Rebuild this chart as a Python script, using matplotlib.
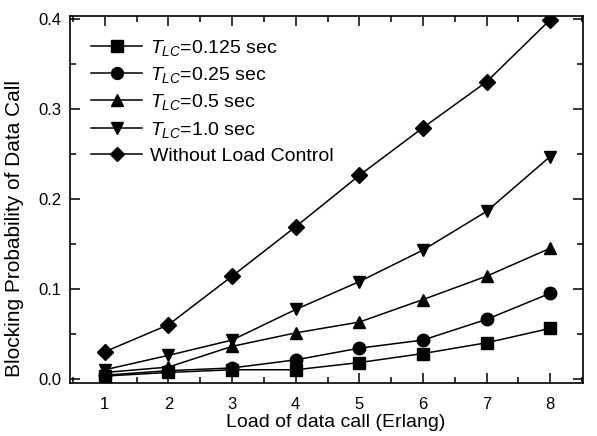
import matplotlib
matplotlib.use('Agg')
import matplotlib.pyplot as plt
from matplotlib.ticker import MultipleLocator

plt.rcParams['font.family'] = ['Liberation Sans', 'DejaVu Sans']
plt.rcParams['mathtext.fontset'] = 'custom'
plt.rcParams['mathtext.rm'] = 'Liberation Sans'
plt.rcParams['mathtext.it'] = 'Liberation Sans:italic'

# data
load = [1, 2, 3, 4, 5, 6, 7, 8]
t_0125 = [0.003, 0.007, 0.010, 0.010, 0.018, 0.028, 0.040, 0.056]
t_025 = [0.004, 0.009, 0.012, 0.021, 0.034, 0.043, 0.066, 0.095]
t_05 = [0.007, 0.013, 0.036, 0.051, 0.063, 0.088, 0.114, 0.145]
t_10 = [0.010, 0.026, 0.043, 0.077, 0.108, 0.143, 0.186, 0.247]
no_ctrl = [0.030, 0.060, 0.114, 0.169, 0.226, 0.279, 0.330, 0.399]

labels = [r'$T_{LC}$=0.125 sec', r'$T_{LC}$=0.25 sec', r'$T_{LC}$=0.5 sec',
          r'$T_{LC}$=1.0 sec', 'Without Load Control']
markers = ['s', 'o', '^', 'v', 'D']
series = [t_0125, t_025, t_05, t_10, no_ctrl]

fig = plt.figure(figsize=(5.97, 4.36), dpi=100)
ax = fig.add_axes([0.117, 0.122, 0.86, 0.841])

for y, m, lab in zip(series, markers, labels):
    ms = 8 if m == 'D' else 9
    ax.plot(load, y, '-', color='black', lw=1.1, marker=m, ms=ms, label=lab)

ax.set_xlim(0.45, 8.52)
ax.set_ylim(-0.0045, 0.403)
ax.xaxis.set_minor_locator(MultipleLocator(0.5))
ax.yaxis.set_minor_locator(MultipleLocator(0.05))
ax.tick_params(which='both', direction='in', top=True, right=True, labelsize=12, width=1.1)
ax.tick_params(which='major', length=7)
ax.tick_params(which='minor', length=4)
ax.tick_params(axis='x', pad=10)
ax.tick_params(axis='y', pad=6)
ax.set_xticks(load)
ax.set_yticks([0.0, 0.1, 0.2, 0.3, 0.4])
ax.set_yticklabels(['0.0', '0.1', '0.2', '0.3', '0.4'])
for s in ax.spines.values():
    s.set_linewidth(1.2)

ax.set_xlabel('Load of data call (Erlang)', fontsize=14)
ax.set_ylabel('Blocking Probability of Data Call', fontsize=15)
ax.xaxis.set_label_coords(0.518, -0.085)
ax.yaxis.set_label_coords(-0.09, 0.422)

ax.legend(loc='upper left', frameon=False, fontsize=14, handlelength=2.6,
          labelspacing=0.38, handletextpad=0.4, borderaxespad=0.8,
          borderpad=0.3, markerscale=0.95)

fig.savefig('out.png', dpi=100)
